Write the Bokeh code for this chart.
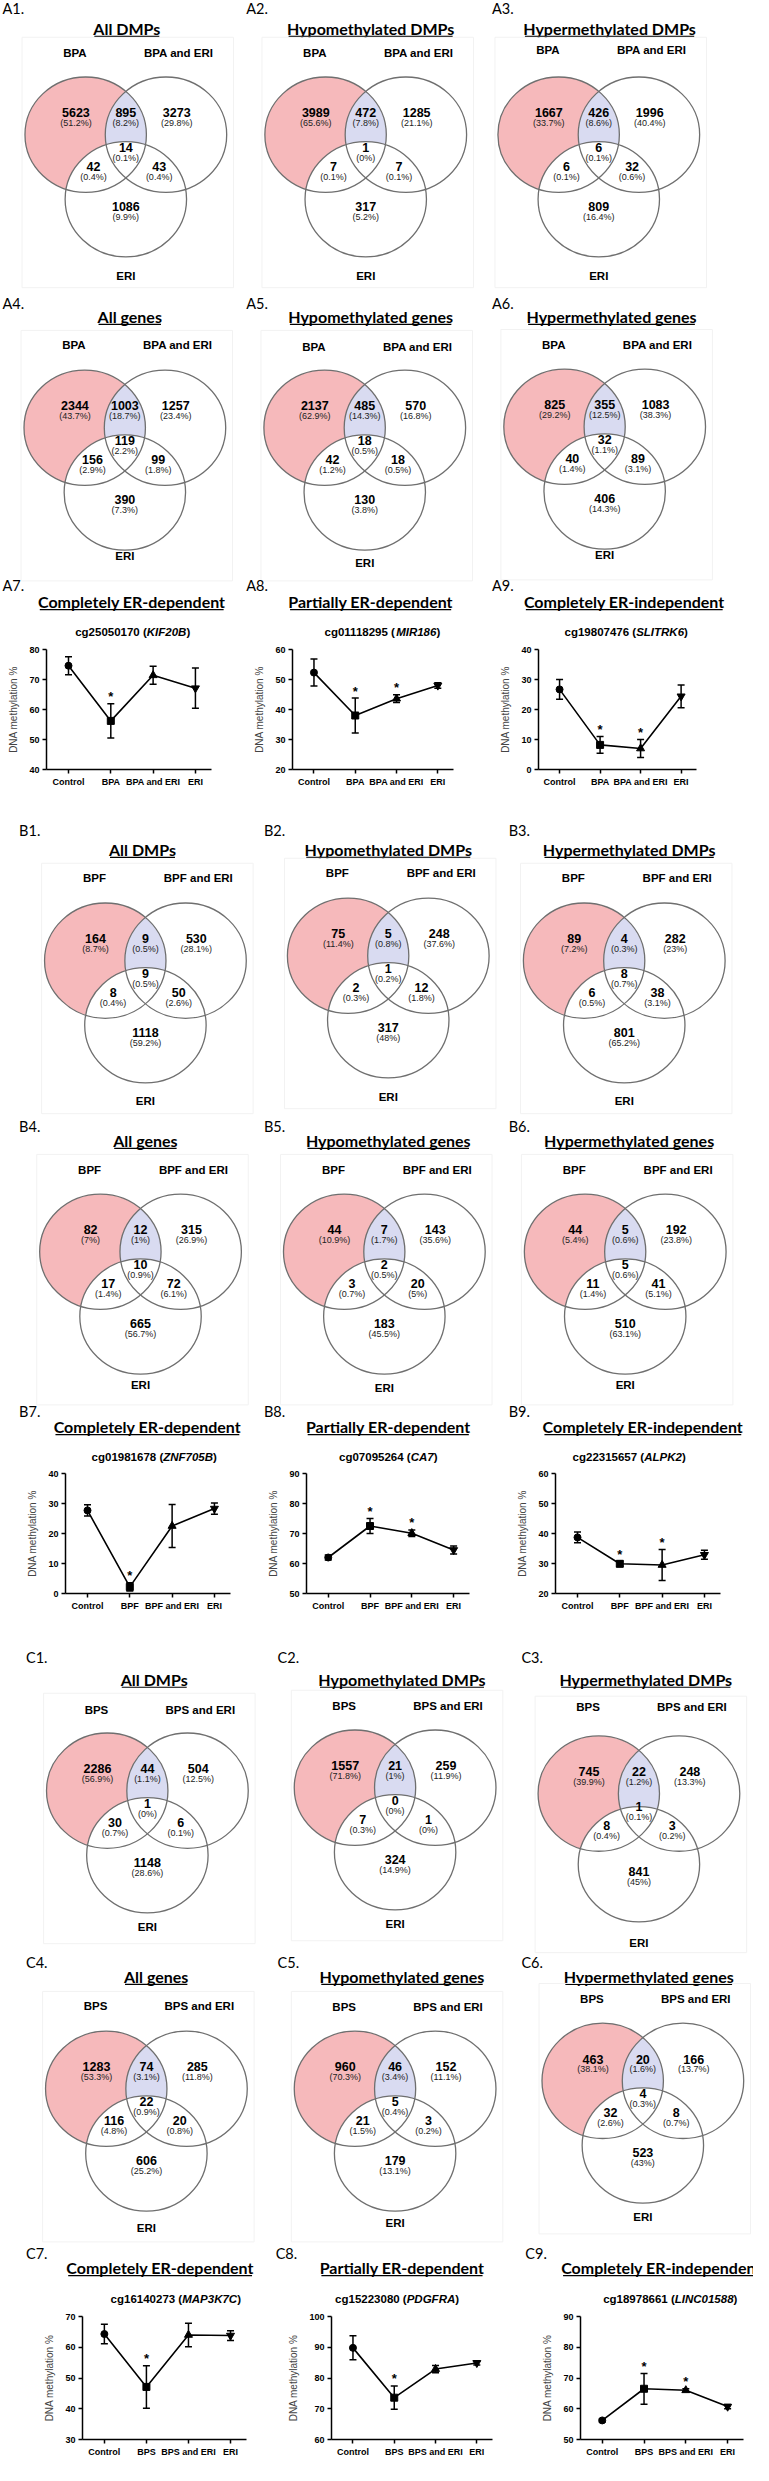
import numpy as np
from bokeh.plotting import figure
from bokeh.layouts import column, row
from bokeh.models import Range1d, FixedTicker, ColumnDataSource, Whisker, TeeHead
from bokeh.core.properties import value
from bokeh.embed import file_html
from bokeh.resources import INLINE

# ======================= DATA =======================
set_names_A = ["BPA", "BPA and ERI", "ERI"]
set_names_B = ["BPF", "BPF and ERI", "ERI"]
set_names_C = ["BPS", "BPS and ERI", "ERI"]
venn_titles = ["All DMPs", "Hypomethylated DMPs", "Hypermethylated DMPs",
               "All genes", "Hypomethylated genes", "Hypermethylated genes"]
# region order: set1 only, set1&set2, set2 only, all three, set1&ERI, set2&ERI, ERI only
A1_n = [5623, 895, 3273, 14, 42, 43, 1086]
A1_p = ["51.2%", "8.2%", "29.8%", "0.1%", "0.4%", "0.4%", "9.9%"]
A2_n = [3989, 472, 1285, 1, 7, 7, 317]
A2_p = ["65.6%", "7.8%", "21.1%", "0%", "0.1%", "0.1%", "5.2%"]
A3_n = [1667, 426, 1996, 6, 6, 32, 809]
A3_p = ["33.7%", "8.6%", "40.4%", "0.1%", "0.1%", "0.6%", "16.4%"]
A4_n = [2344, 1003, 1257, 119, 156, 99, 390]
A4_p = ["43.7%", "18.7%", "23.4%", "2.2%", "2.9%", "1.8%", "7.3%"]
A5_n = [2137, 485, 570, 18, 42, 18, 130]
A5_p = ["62.9%", "14.3%", "16.8%", "0.5%", "1.2%", "0.5%", "3.8%"]
A6_n = [825, 355, 1083, 32, 40, 89, 406]
A6_p = ["29.2%", "12.5%", "38.3%", "1.1%", "1.4%", "3.1%", "14.3%"]
B1_n = [164, 9, 530, 9, 8, 50, 1118]
B1_p = ["8.7%", "0.5%", "28.1%", "0.5%", "0.4%", "2.6%", "59.2%"]
B2_n = [75, 5, 248, 1, 2, 12, 317]
B2_p = ["11.4%", "0.8%", "37.6%", "0.2%", "0.3%", "1.8%", "48%"]
B3_n = [89, 4, 282, 8, 6, 38, 801]
B3_p = ["7.2%", "0.3%", "23%", "0.7%", "0.5%", "3.1%", "65.2%"]
B4_n = [82, 12, 315, 10, 17, 72, 665]
B4_p = ["7%", "1%", "26.9%", "0.9%", "1.4%", "6.1%", "56.7%"]
B5_n = [44, 7, 143, 2, 3, 20, 183]
B5_p = ["10.9%", "1.7%", "35.6%", "0.5%", "0.7%", "5%", "45.5%"]
B6_n = [44, 5, 192, 5, 11, 41, 510]
B6_p = ["5.4%", "0.6%", "23.8%", "0.6%", "1.4%", "5.1%", "63.1%"]
C1_n = [2286, 44, 504, 1, 30, 6, 1148]
C1_p = ["56.9%", "1.1%", "12.5%", "0%", "0.7%", "0.1%", "28.6%"]
C2_n = [1557, 21, 259, 0, 7, 1, 324]
C2_p = ["71.8%", "1%", "11.9%", "0%", "0.3%", "0%", "14.9%"]
C3_n = [745, 22, 248, 1, 8, 3, 841]
C3_p = ["39.9%", "1.2%", "13.3%", "0.1%", "0.4%", "0.2%", "45%"]
C4_n = [1283, 74, 285, 22, 116, 20, 606]
C4_p = ["53.3%", "3.1%", "11.8%", "0.9%", "4.8%", "0.8%", "25.2%"]
C5_n = [960, 46, 152, 5, 21, 3, 179]
C5_p = ["70.3%", "3.4%", "11.1%", "0.4%", "1.5%", "0.2%", "13.1%"]
C6_n = [463, 20, 166, 4, 32, 8, 523]
C6_p = ["38.1%", "1.6%", "13.7%", "0.3%", "2.6%", "0.7%", "43%"]

chart_titles = ["Completely ER-dependent", "Partially ER-dependent", "Completely ER-independent"]
groups_A = ["Control", "BPA", "BPA and ERI", "ERI"]
groups_B = ["Control", "BPF", "BPF and ERI", "ERI"]
groups_C = ["Control", "BPS", "BPS and ERI", "ERI"]
probes_A = ["cg25050170", "cg01118295", "cg19807476"]
genes_A = ["KIF20B", "MIR186", "SLITRK6"]
probes_B = ["cg01981678", "cg07095264", "cg22315657"]
genes_B = ["ZNF705B", "CA7", "ALPK2"]
probes_C = ["cg16140273", "cg15223080", "cg18978661"]
genes_C = ["MAP3K7C", "PDGFRA", "LINC01588"]

A7_mean = [74.6, 56.2, 71.4, 67.1]; A7_err = [3.0, 5.7, 3.0, 6.7]; A7_sig = [0, 1, 0, 0]
A8_mean = [52.3, 38.0, 43.6, 48.0]; A8_err = [4.5, 5.8, 1.3, 0.9]; A8_sig = [0, 1, 1, 0]
A9_mean = [26.7, 8.2, 7.0, 24.4];   A9_err = [3.3, 2.8, 3.0, 3.8]; A9_sig = [0, 1, 1, 0]
B7_mean = [27.7, 2.2, 22.5, 28.3];  B7_err = [1.9, 1.4, 7.2, 1.9]; B7_sig = [0, 1, 0, 0]
B8_mean = [62.0, 72.5, 70.1, 64.5]; B8_err = [0.8, 2.5, 1.1, 1.3]; B8_sig = [0, 1, 1, 0]
B9_mean = [38.7, 29.9, 29.5, 32.9]; B9_err = [1.8, 0.9, 5.2, 1.5]; B9_sig = [0, 1, 1, 0]
C7_mean = [64.3, 47.1, 64.0, 63.8]; C7_err = [3.2, 6.9, 3.8, 1.6]; C7_sig = [0, 1, 0, 0]
C8_mean = [89.8, 73.6, 82.9, 84.9]; C8_err = [3.9, 3.8, 1.2, 0.7]; C8_sig = [0, 1, 0, 0]
C9_mean = [56.2, 66.5, 66.0, 60.7]; C9_err = [0.5, 5.0, 0.5, 0.7]; C9_sig = [0, 1, 1, 0]

y_ranges = {"A7": (40, 80), "A8": (20, 60), "A9": (0, 40),
            "B7": (0, 40), "B8": (50, 90), "B9": (20, 60),
            "C7": (30, 70), "C8": (60, 100), "C9": (50, 90)}

# ======================= STYLE / LAYOUT =======================
REF_W, REF_H = 769, 2481
PAGE_W, PAGE_H = 753, 2465
SX = PAGE_W / REF_W
SY = PAGE_H / REF_H
PINK = "#f6b9bb"
BLUE = "#d9dbf1"
GREY = "#6f6f6f"
SANS = "Liberation Sans"
TITLEF = "Lato"
SUB_SIZE = 11.5

ARIAL_B = {"0": .556, "1": .556, "2": .556, "3": .556, "4": .556, "5": .556, "6": .556,
           "7": .556, "8": .556, "9": .556, " ": .278, "(": .333, ")": .333, "c": .556,
           "g": .611, "A": .722, "B": .722, "C": .722, "D": .722, "E": .667, "F": .611,
           "G": .778, "I": .278, "K": .722, "L": .611, "M": .833, "N": .722, "O": .778,
           "P": .667, "R": .722, "S": .667, "T": .611, "Z": .611}
LATO_B = {"A": .68, "C": .66, "D": .74, "E": .56, "H": .76, "M": .90, "P": .62, "R": .64,
          "a": .50, "c": .45, "d": .56, "e": .52, "g": .50, "h": .56, "i": .25, "l": .25,
          "m": .84, "n": .56, "o": .56, "p": .56, "r": .37, "s": .42, "t": .36, "y": .51,
          "-": .34, " ": .20}


def arial_w(s, size):
    return sum(ARIAL_B.get(ch, .6) for ch in s) * size


def lato_w(s, size):
    return sum(LATO_B.get(ch, .55) for ch in s) * size


def px(v, s):
    return int(round(v * s))


def canvas(y0, y1):
    h = px(y1, SY) - px(y0, SY)
    p = figure(width=PAGE_W, height=h, x_range=Range1d(0, REF_W), y_range=Range1d(y1, y0),
               output_backend="svg", toolbar_location=None, min_border=0,
               x_axis_location=None, y_axis_location=None)
    p.grid.visible = False
    p.outline_line_color = None
    return p


def put_text(p, x, y, t, font, size, style="normal", align="center", color="black"):
    p.text(x=[x], y=[y], text=[t], text_font=value(font), text_font_size=size,
           text_font_style=style, text_align=align, text_baseline="middle", text_color=color)


def panel_label(p, x, y, lab):
    put_text(p, x, y, lab, TITLEF, "14.5px", align="left")


def uline_title(p, cx, cy, t):
    put_text(p, cx, cy, t, TITLEF, "16px", style="bold")
    w = lato_w(t, 16) / SX
    p.segment(x0=[cx - w / 2], y0=[cy + 8], x1=[cx + w / 2], y1=[cy + 8],
              line_color="black", line_width=1.2)


def venn(p, vx, vy, counts, pcts, names, ldy=-60, cl=164, cs=0):
    rx, ry = 62, 58
    ax, ay = vx - 41, vy + 22
    bx, by = vx + 41, vy + 22
    cx, cy = vx, vy + 87 + cs
    p.quad(left=[vx - 106], right=[vx + 110], top=[vy - 76], bottom=[vy + 176 + cs],
           fill_color=None, line_color="#f2f2f2", line_width=1)
    t = np.linspace(0, 2 * np.pi, 400, endpoint=False)

    def pts(x0, y0):
        return x0 + rx * np.cos(t), y0 + ry * np.sin(t)

    def ins(x, y, x0, y0):
        return ((x - x0) / rx) ** 2 + ((y - y0) / ry) ** 2 <= 1

    Ax, Ay = pts(ax, ay)
    Bx, By = pts(bx, by)
    Cx, Cy = pts(cx, cy)
    m1 = ins(Ax, Ay, bx, by)
    m2 = ins(Bx, By, ax, ay)
    Lx = np.concatenate([Ax[m1], Bx[m2]])
    Ly = np.concatenate([Ay[m1], By[m2]])
    o = np.argsort(np.arctan2(Ly - Ly.mean(), Lx - Lx.mean()))
    p.patch(Ax, Ay, fill_color=PINK, line_color=None)
    p.patch(Bx, By, fill_color="white", line_color=None)
    p.patch(Lx[o], Ly[o], fill_color=BLUE, line_color=None)
    p.patch(Cx, Cy, fill_color="white", line_color=None)
    p.ellipse(x=[ax, bx, cx], y=[ay, by, cy], width=2 * rx, height=2 * ry,
              fill_color=None, line_color=GREY, line_width=1.3)
    offs = [(-51, 0), (0, 0), (52, 0), (0, 35), (-33, 54), (34, 54), (0, 94 + cs)]
    for (dx, dy), n, pc in zip(offs, counts, pcts):
        put_text(p, vx + dx, vy + dy, str(n), SANS, "12.5px", style="bold")
        put_text(p, vx + dx, vy + dy + 10.5, "(" + pc + ")", SANS, "9px", color="#222222")
    put_text(p, vx - 52, vy + ldy, names[0], SANS, "11.5px", style="bold")
    put_text(p, vx + 54, vy + ldy, names[1], SANS, "11.5px", style="bold")
    put_text(p, vx, vy + cl, names[2], SANS, "11.5px", style="bold")


def chart_header(p, lx, ly, lab, tx, ty, title, sx, sy, probe, gene):
    panel_label(p, lx, ly, lab)
    uline_title(p, tx, ty, title)
    pre = probe + " ("
    w1 = arial_w(pre, SUB_SIZE) / SX
    w2 = arial_w(gene, SUB_SIZE) / SX
    w3 = arial_w(")", SUB_SIZE) / SX
    x0 = sx - (w1 + w2 + w3) / 2
    fs = "%spx" % SUB_SIZE
    put_text(p, x0, sy, pre, SANS, fs, style="bold", align="left")
    put_text(p, x0 + w1, sy, gene, SANS, fs, style="bold italic", align="left")
    put_text(p, x0 + w1 + w2, sy, ")", SANS, fs, style="bold", align="left")


MARKERS = ["circle", "square", "triangle", "inverted_triangle"]
MSIZE = [7, 7, 8, 8]


def chart(mean, err, sig, groups, yr, split0, split1, ax0, ax1, y0, y1, ftop, fbot):
    w = px(split1, SX) - px(split0, SX)
    h = px(y1, SY) - px(y0, SY)
    bl = px(ax0, SX) - px(split0, SX)
    br = px(split1, SX) - px(ax1, SX)
    bt = px(ftop, SY) - px(y0, SY)
    bb = px(y1, SY) - px(fbot, SY)
    p = figure(width=w, height=h, x_range=Range1d(0.48, 4.38), y_range=Range1d(*yr),
               output_backend="svg", toolbar_location=None,
               min_border_left=bl, min_border_right=br, min_border_top=bt, min_border_bottom=bb)
    p.grid.visible = False
    p.outline_line_color = None
    xs = [1, 2, 3, 4]
    lo = [m - e for m, e in zip(mean, err)]
    hi = [m + e for m, e in zip(mean, err)]
    src = ColumnDataSource(dict(x=xs, m=mean, lo=lo, hi=hi, mk=MARKERS, sz=MSIZE))
    p.line("x", "m", source=src, line_color="black", line_width=1.6)
    wk = Whisker(source=src, base="x", upper="hi", lower="lo", line_color="black", line_width=1.5,
                 upper_head=TeeHead(size=7, line_color="black", line_width=1.5),
                 lower_head=TeeHead(size=7, line_color="black", line_width=1.5))
    p.add_layout(wk)
    p.scatter("x", "m", source=src, marker="mk", size="sz", fill_color="black", line_color="black")
    sx_ = [x for x, s in zip(xs, sig) if s]
    sy_ = [hv for hv, s in zip(hi, sig) if s]
    p.text(x=sx_, y=sy_, text=["*"] * len(sx_), text_font=value(SANS), text_font_size="13px",
           text_font_style="bold", text_align="center", text_baseline="middle", y_offset=-7)
    for a in (p.xaxis[0], p.yaxis[0]):
        a.axis_line_width = 1.5
        a.major_tick_line_width = 1.5
        a.major_tick_in = 0
        a.major_tick_out = 4
        a.minor_tick_line_color = None
        a.major_label_text_font = SANS
        a.major_label_text_font_style = "bold"
        a.major_label_text_font_size = "9px"
        a.major_label_text_color = "black"
        a.major_label_standoff = 3
    p.yaxis.ticker = FixedTicker(ticks=list(range(yr[0], yr[1] + 1, 10)))
    p.xaxis.ticker = FixedTicker(ticks=xs)
    p.xaxis.major_label_overrides = {1: groups[0], 2: groups[1], 3: groups[2], 4: groups[3]}
    p.yaxis.axis_label = "DNA methylation %"
    p.yaxis.axis_label_text_font = SANS
    p.yaxis.axis_label_text_font_style = "normal"
    p.yaxis.axis_label_text_font_size = "10px"
    p.yaxis.axis_label_standoff = 7
    return p


# ======================= BUILD =======================
V1 = canvas(0, 642)
for lab, lx, ly in [("A1.", 2, 8), ("A2.", 251, 8), ("A3.", 502, 8),
                    ("A4.", 2, 305), ("A5.", 251, 305), ("A6.", 502, 305)]:
    panel_label(V1, lx, ly, lab)
for t, tx, ty in zip(venn_titles, [129, 378, 622, 132, 378, 624], [28, 28, 28, 318, 318, 318]):
    uline_title(V1, tx, ty, t)
venn(V1, 128, 113, A1_n, A1_p, set_names_A)
venn(V1, 373, 113, A2_n, A2_p, set_names_A)
venn(V1, 611, 113, A3_n, A3_p, set_names_A, ldy=-63)
venn(V1, 127, 408, A4_n, A4_p, set_names_A, ldy=-61, cl=151)
venn(V1, 372, 408, A5_n, A5_p, set_names_A, ldy=-59, cl=158)
venn(V1, 617, 407, A6_n, A6_p, set_names_A, ldy=-60, cl=151)
for i, (lx, tx, sx) in enumerate([(2, 134, 135), (251, 378, 390), (502, 637, 639)]):
    chart_header(V1, lx, 589, "A%d." % (7 + i), tx, 605, chart_titles[i], sx, 635,
                 probes_A[i], genes_A[i])

cA = [chart(A7_mean, A7_err, A7_sig, groups_A, y_ranges["A7"], 0, 252, 47, 215, 642, 828, 653, 774),
      chart(A8_mean, A8_err, A8_sig, groups_A, y_ranges["A8"], 252, 505, 298, 463, 642, 828, 653, 774),
      chart(A9_mean, A9_err, A9_sig, groups_A, y_ranges["A9"], 505, 769, 549, 711, 642, 828, 653, 774)]

V2 = canvas(828, 1472)
for lab, lx, ly in [("B1.", 19, 835), ("B2.", 269, 835), ("B3.", 519, 835),
                    ("B4.", 19, 1133), ("B5.", 269, 1133), ("B6.", 519, 1133)]:
    panel_label(V2, lx, ly, lab)
for t, tx, ty in zip(venn_titles, [145, 396, 642, 148, 396, 642],
                     [854, 854, 854, 1147, 1147, 1147]):
    uline_title(V2, tx, ty, t)
venn(V2, 148, 944, B1_n, B1_p, set_names_B, ldy=-61, cl=163)
venn(V2, 396, 939, B2_n, B2_p, set_names_B, ldy=-61, cl=164)
venn(V2, 637, 944, B3_n, B3_p, set_names_B, ldy=-61, cl=163)
venn(V2, 143, 1237, B4_n, B4_p, set_names_B, ldy=-60, cl=156)
venn(V2, 392, 1237, B5_n, B5_p, set_names_B, ldy=-60, cl=159)
venn(V2, 638, 1237, B6_n, B6_p, set_names_B, ldy=-60, cl=156)
for i, (lx, tx, sx) in enumerate([(19, 150, 157), (269, 396, 396), (519, 656, 642)]):
    chart_header(V2, lx, 1420, "B%d." % (7 + i), tx, 1435, chart_titles[i], sx, 1465,
                 probes_B[i], genes_B[i])

cB = [chart(B7_mean, B7_err, B7_sig, groups_B, y_ranges["B7"], 0, 268, 66, 235, 1472, 1660, 1483, 1603),
      chart(B8_mean, B8_err, B8_sig, groups_B, y_ranges["B8"], 268, 522, 313, 479, 1472, 1660, 1483, 1603),
      chart(B9_mean, B9_err, B9_sig, groups_B, y_ranges["B9"], 522, 769, 567, 735, 1472, 1660, 1483, 1603)]

V3 = canvas(1660, 2320)
for lab, lx, ly in [("C1.", 26, 1668), ("C2.", 283, 1668), ("C3.", 532, 1668),
                    ("C4.", 26, 1975), ("C5.", 283, 1975), ("C6.", 532, 1975)]:
    panel_label(V3, lx, ly, lab)
for t, tx, ty in zip(venn_titles, [157, 410, 659, 159, 410, 662],
                     [1690, 1690, 1690, 1989, 1989, 1989]):
    uline_title(V3, tx, ty, t)
venn(V3, 150, 1780, C1_n, C1_p, set_names_C, ldy=-59, cl=159)
venn(V3, 403, 1777, C2_n, C2_p, set_names_C, ldy=-60, cl=159)
venn(V3, 652, 1783, C3_n, C3_p, set_names_C, ldy=-65, cl=172, cs=6)
venn(V3, 149, 2080, C4_n, C4_p, set_names_C, ldy=-61, cl=162)
venn(V3, 403, 2080, C5_n, C5_p, set_names_C, ldy=-60, cl=157)
venn(V3, 656, 2072, C6_n, C6_p, set_names_C, ldy=-60, cl=159)
for i, (lx, tx, sx) in enumerate([(26, 163, 179), (281, 410, 405), (536, 675, 684)]):
    chart_header(V3, lx, 2268, "C%d." % (7 + i), tx, 2282, chart_titles[i], sx, 2313,
                 probes_C[i], genes_C[i])

cC = [chart(C7_mean, C7_err, C7_sig, groups_C, y_ranges["C7"], 0, 290, 84, 251, 2320, 2481, 2331, 2455),
      chart(C8_mean, C8_err, C8_sig, groups_C, y_ranges["C8"], 290, 545, 338, 502, 2320, 2481, 2331, 2455),
      chart(C9_mean, C9_err, C9_sig, groups_C, y_ranges["C9"], 545, 769, 592, 759, 2320, 2481, 2331, 2455)]

layout = column(V1, row(*cA), V2, row(*cB), V3, row(*cC))
open("out.html", "w").write(file_html(layout, INLINE))
